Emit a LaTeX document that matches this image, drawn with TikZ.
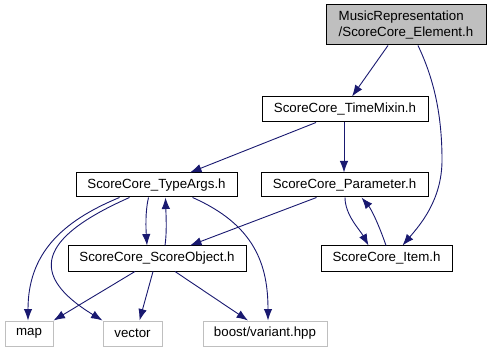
\documentclass[tikz,border=0pt]{standalone}
\usepackage{fontspec}
\setmainfont{Liberation Sans}
\usetikzlibrary{arrows.meta}
\definecolor{edgeblue}{HTML}{191970}
\definecolor{extgray}{HTML}{BFBFBF}
\begin{document}
\begin{tikzpicture}[x=1pt,y=-1pt,
  filebox/.style={draw=black,line width=1pt,inner sep=0pt,
    font=\fontsize{13.3}{15.5}\selectfont,minimum height=25pt},
  extbox/.style={filebox,draw=extgray},
  rootbox/.style={filebox,fill=extgray,align=left},
  dep/.style={draw=edgeblue,line width=0.9pt,
    -{Latex[length=11.5pt,width=8.5pt]}}]
\useasboundingbox (0,0) rectangle (489,352);

% file nodes
\node[rootbox,minimum width=160pt,minimum height=40pt] (el) at (406,25)
  {MusicRepresentation\\/ScoreCore\_Element.h};
\node[filebox,minimum width=166pt] (tm) at (345,109.5) {ScoreCore\_TimeMixin.h};
\node[filebox,minimum width=161pt,minimum height=24pt] (ta) at (156.5,185) {ScoreCore\_TypeArgs.h};
\node[filebox,minimum width=167pt,minimum height=24pt] (pa) at (344.5,185) {ScoreCore\_Parameter.h};
\node[filebox,minimum width=178pt] (so) at (157,258.5) {ScoreCore\_ScoreObject.h};
\node[filebox,minimum width=131pt] (it) at (386.5,258.5) {ScoreCore\_Item.h};
\node[extbox,minimum width=48pt] (map) at (29,333.5) {map};
\node[extbox,minimum width=59pt] (vec) at (132.5,333.5) {vector};
\node[extbox,minimum width=124pt] (bv) at (265,333.5) {boost/variant.hpp};

% include edges
\draw[dep] ([xshift=-18pt]el.south) -- ([xshift=7pt]tm.north);
\draw[dep] ([xshift=12pt]el.south) .. controls (432,75) and (442,110) .. (442,160)
  .. controls (442,200) and (420,225) .. ([xshift=16pt]it.north);
\draw[dep] ([xshift=-29pt]tm.south) -- ([xshift=33.5pt]ta.north);
\draw[dep] ([xshift=-1pt]tm.south) -- ([xshift=-0.5pt]pa.north);
\draw[dep] ([xshift=-37pt]ta.south) .. controls (60,222) and (28,255) .. ([xshift=-1pt]map.north);
\draw[dep] ([xshift=-27pt]ta.south) .. controls (38,238) and (28,275) .. ([xshift=-30pt]vec.north);
\draw[dep] ([xshift=-8pt]ta.south) .. controls (145,212) and (146,230) .. ([xshift=-10pt]so.north);
\draw[dep] ([xshift=8pt]so.north) .. controls (167,232) and (166,215) .. ([xshift=9pt]ta.south);
\draw[dep] ([xshift=36pt]ta.south) .. controls (255,225) and (268,265) .. ([xshift=3pt]bv.north);
\draw[dep] ([xshift=-28pt]pa.south) -- ([xshift=33pt]so.north);
\draw[dep] ([xshift=0.5pt]pa.south) .. controls (345,215) and (360,230) .. ([xshift=-18pt]it.north);
\draw[dep] ([xshift=-0.5pt]it.north) .. controls (380,228) and (372,210) .. ([xshift=17pt]pa.south);
\draw[dep] ([xshift=-22pt]so.south) -- (map.north east);
\draw[dep] ([xshift=-4pt]so.south) -- ([xshift=7pt]vec.north);
\draw[dep] ([xshift=18pt]so.south) -- ([xshift=-17pt]bv.north);
\end{tikzpicture}
\end{document}
